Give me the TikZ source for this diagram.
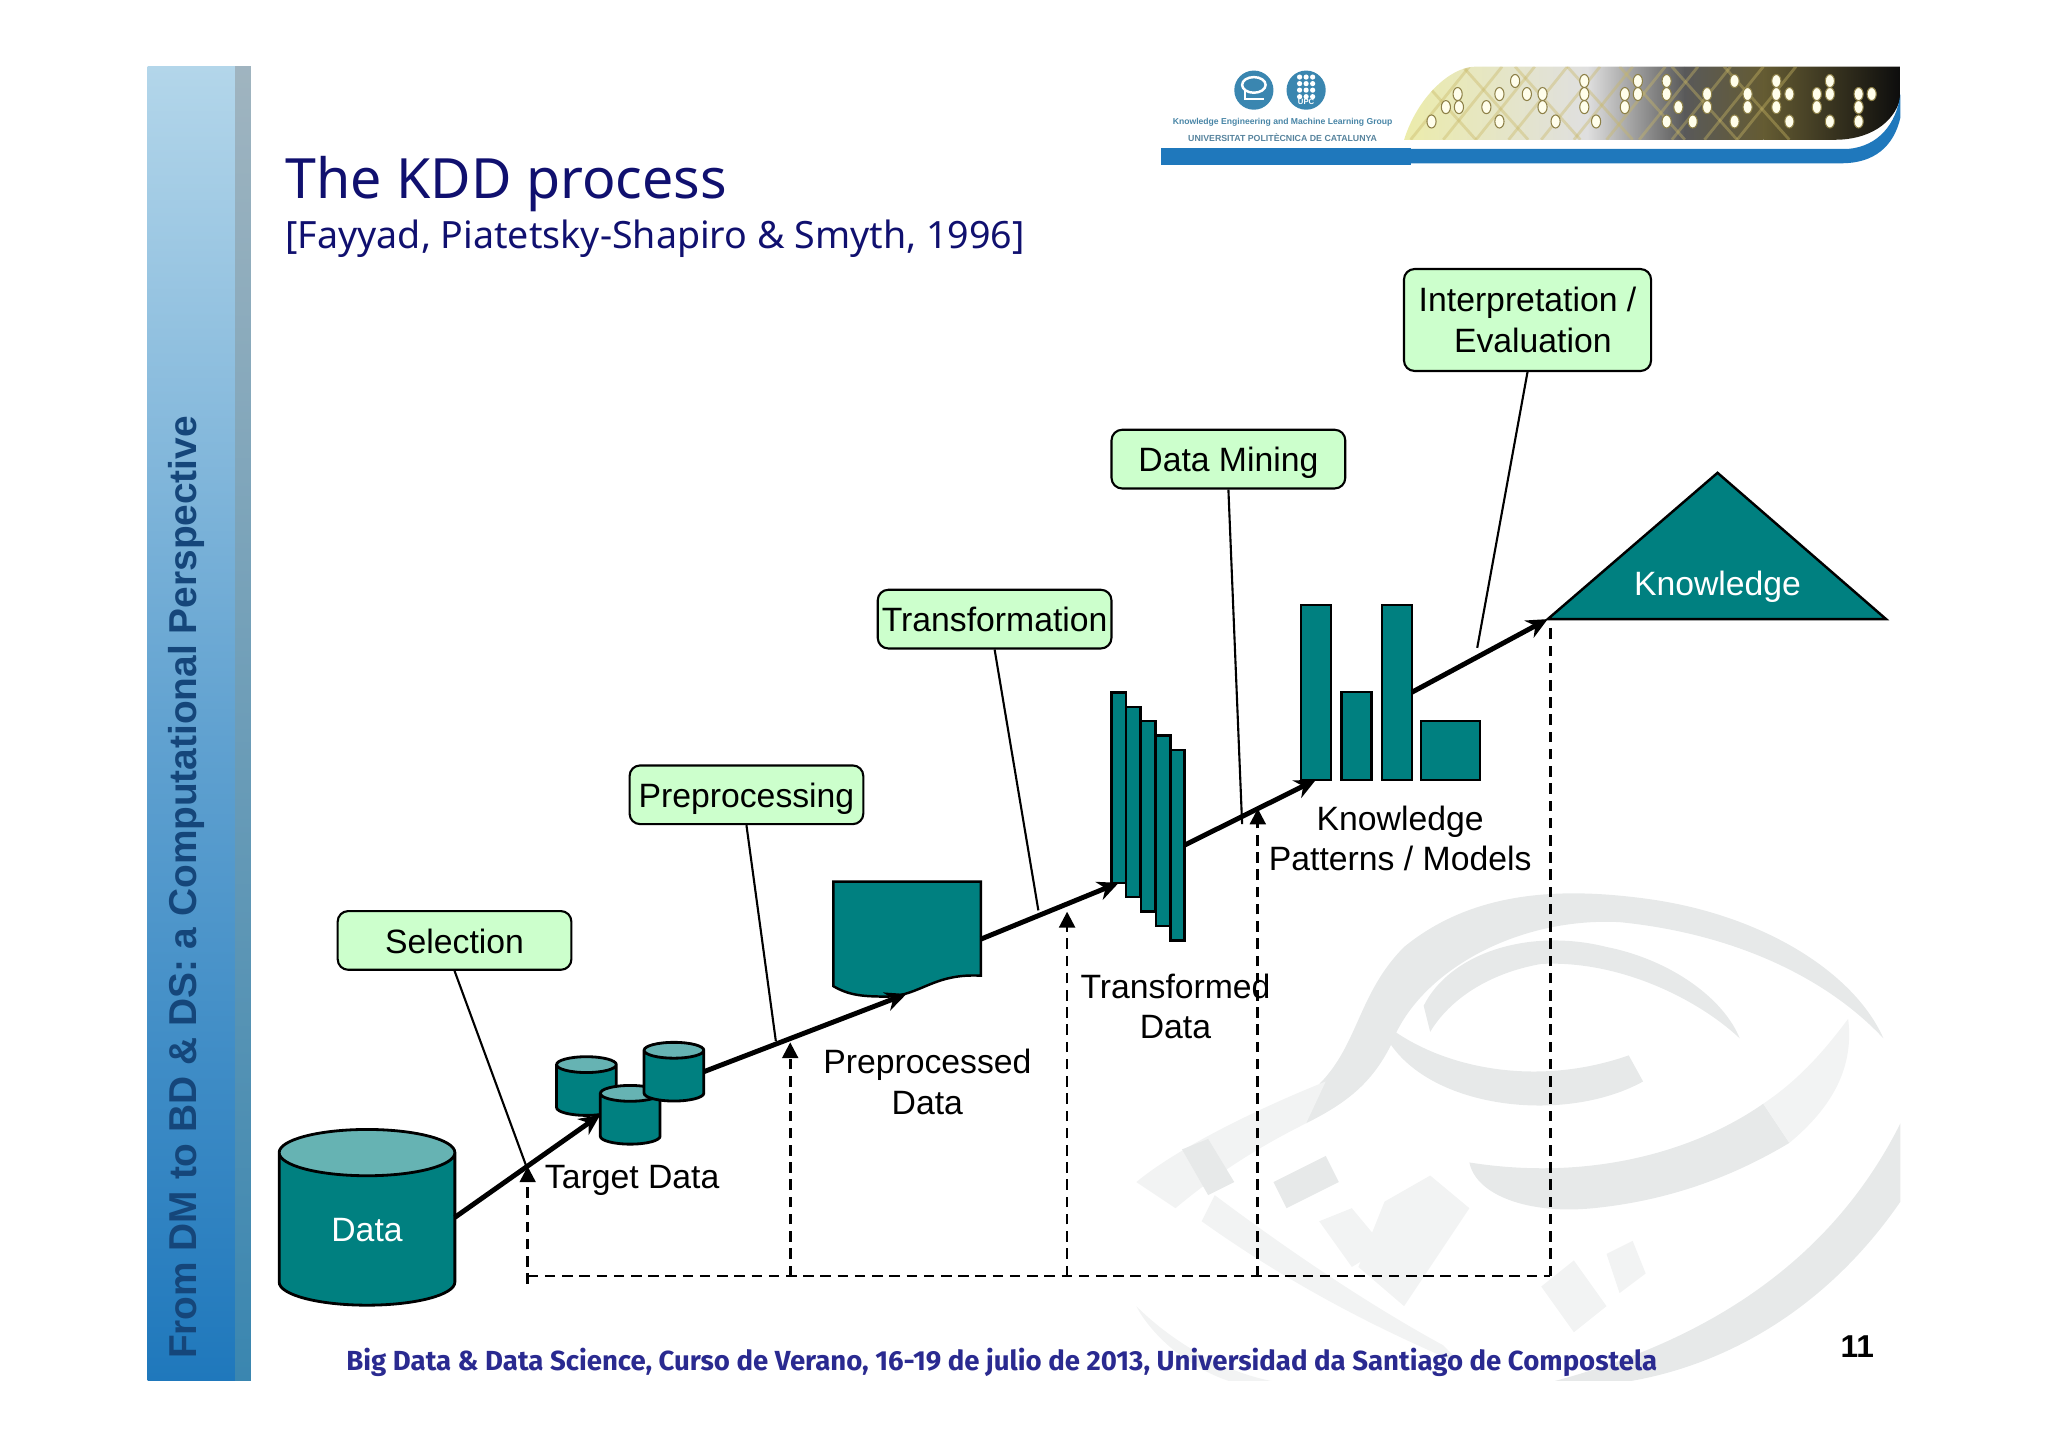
\documentclass[tikz,border=0pt]{standalone}
\usepackage{xcolor}
\usepackage{fontspec}
\setmainfont{Liberation Sans}
\newfontfamily\titlefont{Noto Sans}
\newfontfamily\footfont{Fira Sans}
\usetikzlibrary{calc,arrows.meta,shapes.geometric}
\definecolor{tealfill}{HTML}{008080}
\definecolor{tealtop}{HTML}{66B3B3}
\definecolor{stepfill}{HTML}{CCFFCC}
\definecolor{titleblue}{HTML}{10106F}
\definecolor{footblue}{HTML}{2A2A90}
\definecolor{sidetext}{HTML}{15467A}
\definecolor{sidetop}{HTML}{B3D6EA}
\definecolor{upcblue}{HTML}{1F78BC}
\definecolor{logoblue}{HTML}{3A86B0}
\definecolor{markgray}{HTML}{E7E9E9}
\definecolor{markpale}{HTML}{F2F3F3}
\definecolor{goldline}{HTML}{C9B765}

\begin{document}
\begin{tikzpicture}[x=0.01306cm,y=-0.01306cm,font=\fontsize{9.6}{11.5}\selectfont,
  stepbox/.style={draw=black,line width=0.6pt,fill=stepfill,rounded corners=3pt,minimum width=66.5pt,minimum height=16.7pt,inner sep=1pt,align=center},
  oneline/.style={text height=7.6pt,text depth=0.4pt},
  tank/.style={cylinder,shape border rotate=90,anchor=shape center,draw=black,line width=0.8pt,cylinder uses custom fill,cylinder body fill=tealfill,cylinder end fill=tealtop,inner sep=0pt,outer sep=0pt},
  smalltank/.style={tank,minimum width=17pt,minimum height=16.7pt,aspect=0.65},
  bar/.style={draw=black,line width=0.7pt,fill=tealfill,inner sep=0pt,outer sep=0pt},
  flow/.style={line width=1.4pt,-{Stealth[length=6pt,width=5.5pt]}},
  feed/.style={line width=0.75pt,dash pattern=on 3pt off 1.9pt},
  feedup/.style={feed,-{Triangle[length=4.5pt,width=4.5pt]}},
  callout/.style={line width=0.6pt},
  lbl/.style={align=center,inner sep=0pt},
  dot/.style={fill=white!92!yellow,draw=goldline!70!black,line width=0.3pt}]
  \useasboundingbox (0,0) rectangle (1568,1109);

  \begin{scope}
    \clip (840,660) rectangle (1460,1057);
    \fill[markgray] (1010,830) .. controls (1040,800) and (1040,760) .. (1075,725) .. controls (1130,680) and (1200,680) .. (1260,688) .. controls (1350,700) and (1420,745) .. (1442,795) .. controls (1400,750) and (1330,715) .. (1240,706) .. controls (1160,702) and (1085,745) .. (1065,800) .. controls (1050,830) and (1030,845) .. (1000,860) -- cycle;
    \fill[markpale] (870,905) .. controls (900,880) and (960,850) .. (1015,828) -- (1000,860) .. controls (960,880) and (930,900) .. (900,925) -- cycle;
    \fill[markgray] (1090,770) .. controls (1110,730) and (1170,710) .. (1230,725) .. controls (1280,735) and (1320,765) .. (1332,795) .. controls (1300,765) and (1240,735) .. (1180,738) .. controls (1140,745) and (1110,765) .. (1095,790) -- cycle;
    \fill[markgray] (1050,775) .. controls (1090,815) and (1170,835) .. (1247,808) -- (1258,828) .. controls (1200,860) and (1100,850) .. (1065,800) -- cycle;
    \fill[markgray] (1125,890) .. controls (1220,905) and (1300,880) .. (1350,845) -- (1370,875) .. controls (1320,905) and (1270,920) .. (1220,925) .. controls (1170,930) and (1130,915) .. (1125,890) -- cycle;
    \fill[markpale] (1350,845) .. controls (1380,825) and (1400,800) .. (1415,780) .. controls (1420,820) and (1400,850) .. (1370,875) -- cycle;
    \fill[markpale] (870,1000) .. controls (900,1030) and (950,1060) .. (1000,1060) -- (950,1060) .. controls (910,1050) and (880,1020) .. (870,1000) -- cycle;
    \fill[markgray] (1180,1060) .. controls (1300,1030) and (1400,970) .. (1455,860) -- (1455,920) .. controls (1400,1000) and (1320,1050) .. (1230,1060) -- cycle;
    \fill[markgray] (905,880) -- (925,872) -- (945,905) -- (925,915) -- cycle;
    \fill[markgray] (975,905) -- (1015,885) -- (1025,905) -- (985,925) -- cycle;
    \fill[markpale] (1010,935) -- (1035,925) -- (1060,955) -- (1035,970) -- cycle;
    \fill[markpale] (920,935) .. controls (990,985) and (1060,1020) .. (1120,1045) -- (1105,1030) .. controls (1050,1000) and (990,960) .. (930,915) -- cycle;
    \fill[markpale] (1060,920) -- (1095,900) -- (1125,925) -- (1075,1000) -- (1040,970) -- cycle;
    \fill[markpale] (1180,985) -- (1205,965) -- (1230,1000) -- (1205,1020) -- cycle;
    \fill[markpale] (1230,960) -- (1250,950) -- (1260,975) -- (1240,990) -- cycle;
  \end{scope}

  \shade[top color=sidetop,bottom color=upcblue,middle color=sidetop!45!upcblue] (113,51) rectangle (180,1057);
  \shade[top color=logoblue!45!gray!60,bottom color=logoblue] (180,51) rectangle (192,1057);
  \node[rotate=90,anchor=west,font=\fontsize{11.05}{13}\bfseries\selectfont,text=sidetext,inner sep=0pt] (sidetitle) at (143,1041) {From DM to BD \& DS: a Computational Perspective};

  \begin{scope}
    \clip (1075,107) .. controls (1085,75) and (1110,51) .. (1130,51) -- (1455,51) -- (1455,75) .. controls (1450,95) and (1430,107) .. (1405,107) -- cycle;
    \shade[left color=yellow!30!white!85!gray,right color=gray!25] (1075,51) rectangle (1215,107);
    \shade[left color=gray!25,right color=black!65] (1215,51) rectangle (1290,107);
    \shade[left color=black!65,right color=goldline!50!black] (1290,51) rectangle (1350,107);
    \shade[left color=goldline!50!black,right color=black!95] (1350,51) rectangle (1455,107);
    \foreach \lx in {1080,1105,...,1330} \draw[goldline,line width=0.8pt,opacity=0.4] (\lx,107) -- (\lx+45,51);
    \foreach \lx in {1080,1120,...,1320} \draw[goldline,line width=0.8pt,opacity=0.4] (\lx,51) -- (\lx+50,107);
  \end{scope}
  \foreach \dx in {1160,1213,1254,1276,1328,1360,1401} \filldraw[dot] (\dx,62) ellipse (3.5 and 5);
  \foreach \dx in {1116,1148,1169,1181,1213,1244,1254,1276,1307,1338,1360,1370,1391,1401,1423,1433} \filldraw[dot] (\dx,72) ellipse (3.5 and 5);
  \foreach \dx in {1107,1117,1138,1181,1213,1244,1285,1307,1338,1360,1391,1423} \filldraw[dot] (\dx,82) ellipse (3.5 and 5);
  \foreach \dx in {1096,1148,1191,1222,1276,1296,1328,1370,1401,1423} \filldraw[dot] (\dx,93) ellipse (3.5 and 5);
  \fill[upcblue] (889,113) rectangle (1080,126);
  \fill[upcblue] (1080,114) -- (1415,114) .. controls (1438,112) and (1452,95) .. (1455,72) -- (1455,90) .. controls (1450,112) and (1435,125) .. (1410,125) -- (1080,125) -- cycle;
  \fill[logoblue] (960,69) circle (15);
  \fill[logoblue] (1000,69) circle (15);
  \draw[white,line width=0.7pt] (960,65) ellipse (9 and 6);
  \draw[white,line width=0.5pt] (953,69) -- (953,76) -- (968,76);
  \foreach \i in {-5,0,5} \foreach \j in {-10,-5,0,5} \fill[white] (1000+\i,69+\j) circle (2);
  \node[text=white,font=\fontsize{2.2}{3}\bfseries\selectfont,inner sep=0pt] (upclogo) at (1000,78) {UPC};
  \node[text=logoblue!80!gray,font=\fontsize{2.45}{3}\bfseries\selectfont,inner sep=0pt] (kemlg) at (982,94) {Knowledge Engineering and Machine Learning Group};
  \node[text=logoblue!60!gray,font=\fontsize{2.5}{3}\bfseries\selectfont,inner sep=0pt] (upcname) at (982,105) {UNIVERSITAT POLITÈCNICA DE CATALUNYA};

  \node[anchor=base west,text=titleblue,font=\titlefont\fontsize{15.8}{18}\selectfont,inner sep=0pt] (title) at (218,152) {The KDD process};
  \node[anchor=base west,text=titleblue,font=\titlefont\fontsize{10.7}{12}\selectfont,inner sep=0pt] (subtitle) at (218,190) {[Fayyad, Piatetsky-Shapiro \& Smyth, 1996]};
  \node[text=footblue,font=\footfont\bfseries\fontsize{7.85}{9}\selectfont,inner sep=0pt] (footer) at (767,1043) {Big Data \& Data Science, Curso de Verano, 16-19 de julio de 2013, Universidad da Santiago de Compostela};
  \node[font=\fontsize{9}{10}\bfseries\selectfont,inner sep=0pt] (pagenum) at (1422,1031) {11};

  \node[tank,minimum width=50pt,minimum height=50pt,aspect=1.9] (data) at (281,932) {\phantom{D}};
  \node[lbl,text=white] (datalbl) at (281,942) {Data};
  \node[smalltank] (target1) at (449,831.5) {\phantom{D}};
  \node[smalltank] (target2) at (482.5,853.5) {\phantom{D}};
  \node[smalltank] (target3) at (516,820.5) {\phantom{D}};
  \node[lbl] (targetlbl) at (484,904) {Target Data};

  \fill[tealfill,draw=black,line width=0.7pt] (638,675) -- (751,675) -- (751,747) .. controls (715,745) and (705,762) .. (680,763) .. controls (660,763) and (650,762) .. (638,755) -- cycle;
  \coordinate (docin) at (694,761);
  \coordinate (docout) at (751,719);
  \node[lbl] (doclbl) at (710,828.5) {Preprocessed\\Data};

  \foreach \n/\bx/\by in {1/856.5/603,2/867.5/614,3/879/625,4/890.5/636,5/901.5/647}
    \node[bar,minimum width=4.1pt,minimum height=54.2pt] (tr\n) at (\bx,\by) {};
  \node[lbl] (trlbl) at (900,770.5) {Transformed\\Data};

  \node[bar,minimum width=8.5pt,minimum height=49.8pt] (pat1) at (1007.5,530) {};
  \node[bar,minimum width=8.5pt,minimum height=24.9pt] (pat2) at (1038.5,563.5) {};
  \node[bar,minimum width=8.5pt,minimum height=49.8pt] (pat3) at (1069.5,530) {};
  \node[bar,minimum width=16.7pt,minimum height=16.7pt] (pat4) at (1110.5,574.5) {};
  \node[lbl] (patlbl) at (1072,642) {Knowledge\\Patterns / Models};

  \fill[tealfill,draw=black,line width=0.7pt] (1185,474) -- (1315,362) -- (1444,474) -- cycle;
  \coordinate (knowin) at (1185,474);
  \node[lbl,text=white] (knowledge) at (1315,449) {Knowledge};

  \draw[flow] (data.east |- data.shape center) -- (target2.west |- target2.shape center);
  \draw[flow] (target3.east |- target3.shape center) -- (docin);
  \draw[flow] (docout) -- (tr1.south);
  \draw[flow] (tr5.east) -- (pat1.south);
  \draw[flow] (pat3.east) -- (knowin);

  \node[stepbox,oneline] (selection) at (348,720) {Selection};
  \node[stepbox,oneline] (preprocessing) at (571.5,608.5) {Preprocessing};
  \node[stepbox,oneline] (transformation) at (761.5,474) {Transformation};
  \node[stepbox,oneline] (mining) at (940.5,351.5) {Data Mining};
  \node[stepbox,minimum width=70.3pt,minimum height=29pt] (interp) at (1169.5,245) {Interpretation /\\\hspace*{3pt}Evaluation};
  \coordinate (selend) at (403,893);
  \coordinate (preend) at (594,797);
  \coordinate (transend) at (795,697);
  \coordinate (minend) at (951,631);
  \coordinate (interpend) at (1131,496);
  \draw[callout] (selection.south) -- (selend);
  \draw[callout] (preprocessing.south) -- (preend);
  \draw[callout] (transformation.south) -- (transend);
  \draw[callout] (mining.south) -- (minend);
  \draw[callout] (interp.south) -- (interpend);

  \coordinate (fb0) at (404,977);
  \coordinate (fb1) at (605,977);
  \coordinate (fb2) at (817,977);
  \coordinate (fb3) at (963,977);
  \coordinate (fb4) at (1187,977);
  \coordinate (fbstub) at (404,983);
  \coordinate (up0) at (404,893);
  \coordinate (up1) at (605,798);
  \coordinate (up2) at (817,698);
  \coordinate (up3) at (963,619);
  \coordinate (up4) at (1187,476);
  \draw[feed] (fb0) -- (fb4);
  \draw[feedup] (fbstub) -- (up0);
  \draw[feedup] (fb1) -- (up1);
  \draw[feedup] (fb2) -- (up2);
  \draw[feedup] (fb3) -- (up3);
  \draw[feed] (fb4) -- (up4);
\end{tikzpicture}
\end{document}
